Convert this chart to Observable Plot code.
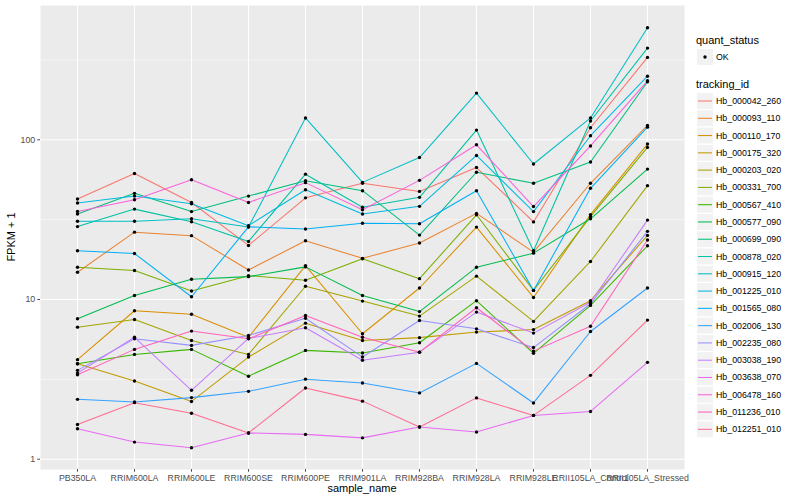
<!DOCTYPE html>
<html>
<head>
<meta charset="utf-8">
<script src="https://cdn.jsdelivr.net/npm/d3@7"></script>
<script src="https://cdn.jsdelivr.net/npm/@observablehq/plot@0.6"></script>
<style>
  html, body { margin: 0; padding: 0; background: #ffffff; }
  #chart { width: 800px; height: 500px; }
  svg text { font-family: "Liberation Sans", Arial, Helvetica, sans-serif; }
</style>
</head>
<body>
<div id="chart"></div>
<script>
const samples = ["PB350LA","RRIM600LA","RRIM600LE","RRIM600SE","RRIM600PE","RRIM901LA","RRIM928BA","RRIM928LA","RRIM928LE","RRII105LA_Control","RRII105LA_Stressed"];

const trackingIds = ["Hb_000042_260","Hb_000093_110","Hb_000110_170","Hb_000175_320","Hb_000203_020","Hb_000331_700","Hb_000567_410","Hb_000577_090","Hb_000699_090","Hb_000878_020","Hb_000915_120","Hb_001225_010","Hb_001565_080","Hb_002006_130","Hb_002235_080","Hb_003038_190","Hb_003638_070","Hb_006478_160","Hb_011236_010","Hb_012251_010"];

// FPKM + 1 per sample (order of samples)
const hb_000042_260 = [42.6, 61.5, 40.5, 21.8, 43.3, 53.4, 47.5, 67, 30.6, 119, 328];
const hb_000093_110 = [14.8, 26.4, 25.1, 15.3, 23.3, 18.1, 22.6, 34.6, 19.8, 53.4, 123];
const hb_000110_170 = [4.2, 8.5, 8.09, 5.8, 16.3, 6.1, 11.8, 28.4, 10.3, 34, 94];
const hb_000175_320 = [3.96, 3.09, 2.30, 4.36, 7.11, 5.54, 5.77, 6.25, 6.48, 9.83, 25.2];
const hb_000203_020 = [6.71, 7.5, 5.54, 4.53, 12.1, 9.77, 7.87, 14.0, 7.29, 17.3, 51.6];
const hb_000331_700 = [15.9, 15.2, 11.3, 14.1, 13.2, 18.0, 13.5, 33.9, 11.4, 33, 89.6];
const hb_000567_410 = [3.96, 4.53, 4.87, 3.31, 4.8, 4.62, 5.36, 9.83, 4.6, 9.18, 21.7];
const hb_000577_090 = [7.57, 10.6, 13.4, 13.9, 16.0, 10.6, 8.4, 15.9, 19.5, 32, 65.5];
const hb_000699_090 = [34.3, 46.2, 35.5, 44.4, 55.4, 48, 25.3, 62.6, 53.4, 72.6, 231];
const hb_000878_020 = [28.6, 36.8, 30.7, 23.1, 60.9, 37.8, 43.6, 115, 20.2, 131, 375];
const hb_000915_120 = [30.9, 30.9, 32, 28.4, 137, 54.1, 77.4, 196, 70.5, 137, 503];
const hb_001225_010 = [40.2, 44.4, 39.7, 29, 48.7, 34.3, 38.3, 79.8, 35.5, 106, 250];
const hb_001565_080 = [20.2, 19.4, 10.4, 28.5, 27.6, 30, 29.8, 48, 11.4, 49.7, 120];
const hb_002006_130 = [2.37, 2.28, 2.43, 2.66, 3.17, 3.0, 2.6, 3.98, 2.25, 6.3, 11.8];
const hb_002235_080 = [3.6, 5.67, 5.16, 5.95, 7.63, 4.36, 7.39, 6.55, 5.0, 9.4, 26.7];
const hb_003038_190 = [3.46, 5.8, 2.70, 5.7, 6.65, 4.16, 4.68, 8.34, 6.16, 9.6, 31.4];
const hb_003638_070 = [1.55, 1.28, 1.18, 1.46, 1.43, 1.36, 1.59, 1.48, 1.88, 1.99, 4.04];
const hb_006478_160 = [35.6, 42.1, 56.2, 40.5, 53.9, 36.5, 55.7, 93, 38.2, 91.5, 234];
const hb_011236_010 = [3.38, 4.87, 6.34, 5.67, 7.94, 5.8, 4.68, 8.88, 4.75, 6.8, 23.6];
const hb_012251_010 = [1.65, 2.26, 1.94, 1.46, 2.79, 2.31, 1.59, 2.42, 1.88, 3.35, 7.43];

const seriesValues = [hb_000042_260, hb_000093_110, hb_000110_170, hb_000175_320, hb_000203_020, hb_000331_700, hb_000567_410, hb_000577_090, hb_000699_090, hb_000878_020, hb_000915_120, hb_001225_010, hb_001565_080, hb_002006_130, hb_002235_080, hb_003038_190, hb_003638_070, hb_006478_160, hb_011236_010, hb_012251_010];

const quantStatus = ["OK"];
const yMajorTicks = [1, 10, 100];
const yMinorTicks = [3.162, 31.62, 316.2];

const palette = ["#F8766D","#EA8331","#D89000","#C09B00","#A3A500","#7CAE00","#39B600","#00BB4E","#00BF7D","#00C1A3","#00BFC4","#00BAE0","#00B0F6","#35A2FF","#9590FF","#C77CFF","#E76BF3","#FA62DB","#FF62BC","#FF6C91"];

const data = [];
trackingIds.forEach((id, i) => {
  seriesValues[i].forEach((v, j) => data.push({id, sample: samples[j], value: v, status: quantStatus[0]}));
});

const chart = Plot.plot({
  width: 800,
  height: 500,
  marginLeft: 40,
  marginRight: 116,
  marginTop: 5,
  marginBottom: 31,
  style: {fontFamily: "Liberation Sans, Arial, sans-serif", background: "#ffffff"},
  x: {type: "point", domain: samples, padding: 0.6, label: null},
  y: {type: "log", domain: [0.862, 693], label: null},
  color: {domain: trackingIds, range: palette},
  marks: [
    Plot.frame({fill: "#EBEBEB", stroke: null}),
    Plot.ruleY(yMinorTicks, {stroke: "#ffffff", strokeWidth: 0.55, strokeOpacity: 1}),
    Plot.ruleY(yMajorTicks, {stroke: "#ffffff", strokeWidth: 1.1, strokeOpacity: 1}),
    Plot.ruleX(samples, {stroke: "#ffffff", strokeWidth: 1.1, strokeOpacity: 1}),
    Plot.axisY({ticks: yMajorTicks, tickFormat: d => String(d), tickSize: 2.75, tickPadding: 2.5, fontSize: 8.8, color: "#4D4D4D", label: null}),
    Plot.axisX({tickSize: 2.75, tickPadding: 2, fontSize: 8.8, color: "#4D4D4D", label: null}),
    Plot.line(data, {x: "sample", y: "value", z: "id", stroke: "id", strokeWidth: 1.05}),
    Plot.dot(data, {x: "sample", y: "value", fill: "#000000", r: 1.7, stroke: null})
  ]
});

document.getElementById("chart").appendChild(chart);

const svg = d3.select(chart);
const colorScale = chart.scale("color");

// Axis titles
svg.append("text")
  .attr("x", 362).attr("y", 492)
  .attr("text-anchor", "middle")
  .attr("font-size", 11).attr("fill", "#000000")
  .text("sample_name");
svg.append("text")
  .attr("transform", "translate(15,237) rotate(-90)")
  .attr("text-anchor", "middle")
  .attr("font-size", 11).attr("fill", "#000000")
  .text("FPKM + 1");

// Legend: quant_status
const lg = svg.append("g").attr("text-anchor", "start");
lg.append("text").attr("x", 696).attr("y", 44).attr("text-anchor", "start").attr("font-size", 11).attr("fill", "#000").text("quant_status");
quantStatus.forEach((s, i) => {
  const y0 = 48.5 + i * 17.28;
  lg.append("rect").attr("x", 696.5).attr("y", y0).attr("width", 17).attr("height", 17).attr("fill", "#F2F2F2").attr("stroke", "#ffffff");
  lg.append("circle").attr("cx", 705).attr("cy", y0 + 8.5).attr("r", 1.7).attr("fill", "#000");
  lg.append("text").attr("x", 716).attr("y", y0 + 11.5).attr("text-anchor", "start").attr("font-size", 8.8).attr("fill", "#000").text(s);
});

// Legend: tracking_id
lg.append("text").attr("x", 696).attr("y", 88).attr("text-anchor", "start").attr("font-size", 11).attr("fill", "#000").text("tracking_id");
trackingIds.forEach((id, i) => {
  const y0 = 92.5 + i * 17.28;
  lg.append("rect").attr("x", 696.5).attr("y", y0).attr("width", 17).attr("height", 17).attr("fill", "#F2F2F2").attr("stroke", "#ffffff");
  lg.append("line").attr("x1", 698).attr("x2", 712).attr("y1", y0 + 8.5).attr("y2", y0 + 8.5).attr("stroke", colorScale.apply(id)).attr("stroke-width", 1.05);
  lg.append("text").attr("x", 716).attr("y", y0 + 11.5).attr("text-anchor", "start").attr("font-size", 8.8).attr("fill", "#000").text(id);
});
</script>
</body>
</html>
